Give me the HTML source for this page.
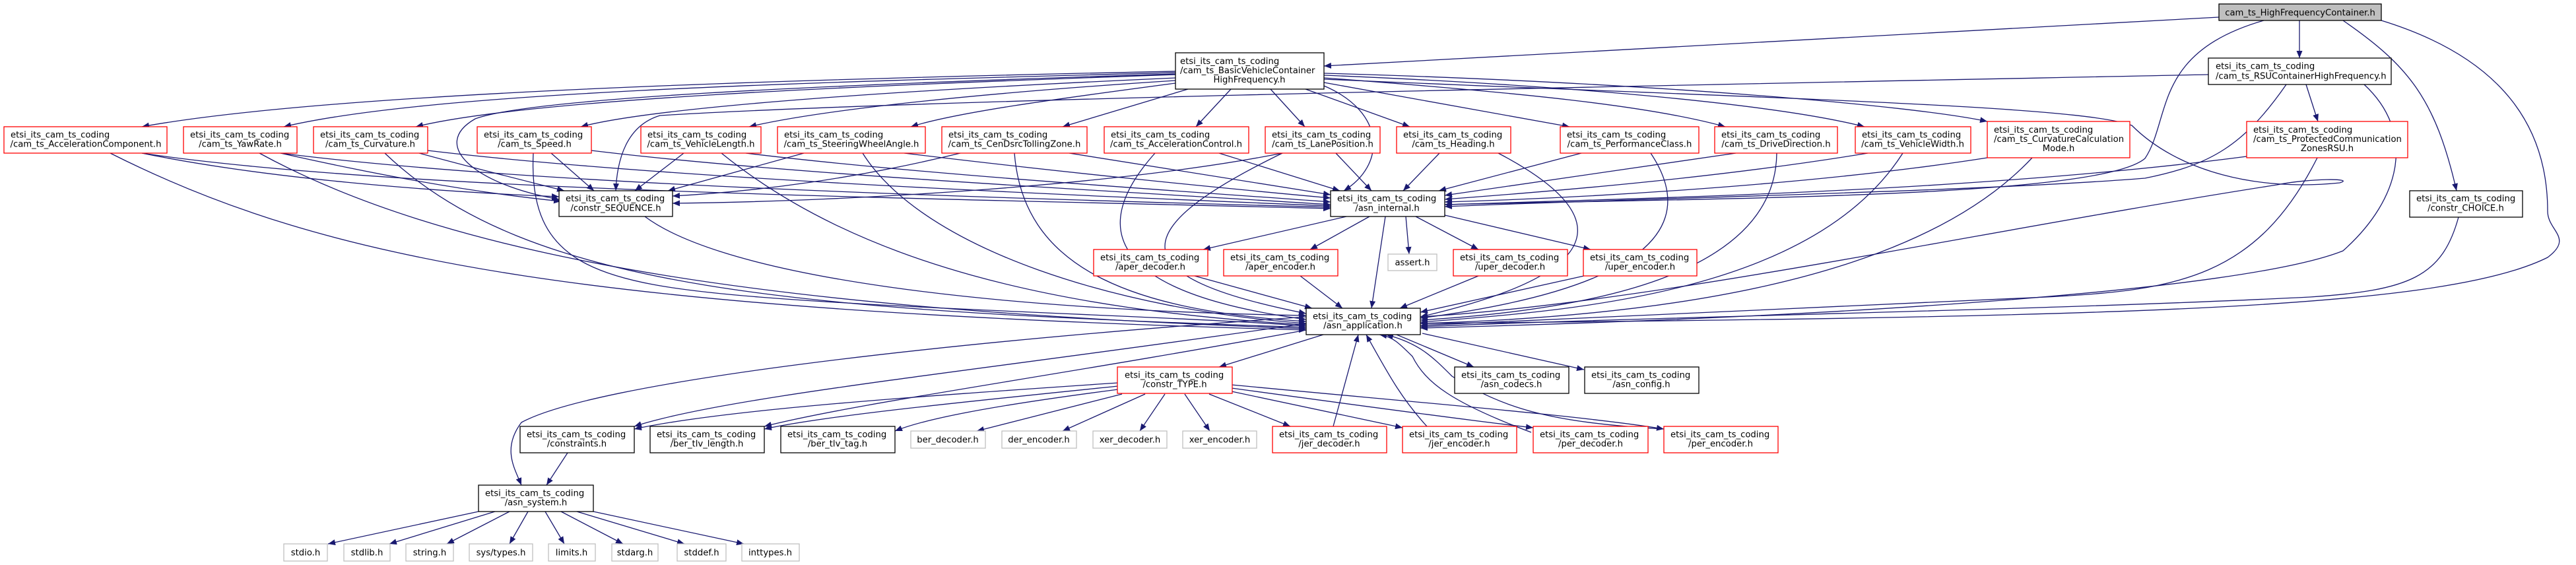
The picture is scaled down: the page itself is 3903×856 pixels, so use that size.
<!DOCTYPE html>
<html><head><meta charset="utf-8"><style>
html,body{margin:0;padding:0;background:#fff;}
svg{display:block;}
text{font-family:"DejaVu Sans","Liberation Sans",sans-serif;font-size:13.2px;fill:#000;}
.e{fill:none;stroke:#191970;stroke-width:1.3;marker-end:url(#a);}
.n{fill:#fff;stroke:#000;stroke-width:1.3;}
.r{fill:#fff;stroke:#ff0000;stroke-width:1.3;}
.g{fill:#fff;stroke:#bfbfbf;stroke-width:1.3;}
</style></head><body>
<svg width="3903" height="856" viewBox="0 0 3903 856" xmlns="http://www.w3.org/2000/svg">
<defs><marker id="a" markerUnits="userSpaceOnUse" markerWidth="12" markerHeight="9" refX="11" refY="4.5" orient="auto"><path d="M0,0 L11,4.5 L0,9 z" fill="#191970"/></marker></defs>
<g>
<path class="e" d="M3362,26 L2006,100"/>
<path class="e" d="M3484,31 L3484,88"/>
<path class="e" d="M3430,31 C3260,80 3290,180 3250,240 C3180,300 2600,300 2189,310"/>
<path class="e" d="M3550,31 C3650,100 3690,150 3722,289"/>
<path class="e" d="M3608,31 C3800,90 3860,200 3860,320 C3860,350 3900,360 3860,390 C3700,470 3200,480 2152,490"/>
<path class="e" d="M1781,108 C1200,120 500,140 215,192"/>
<path class="e" d="M1781,110 C1200,125 650,140 430,192"/>
<path class="e" d="M1781,113 C1300,130 800,150 630,192"/>
<path class="e" d="M1781,118 C1400,135 1000,160 880,192"/>
<path class="e" d="M1781,122 C1500,140 1250,165 1135,192"/>
<path class="e" d="M1781,126 C1600,150 1450,170 1380,192"/>
<path class="e" d="M1800,135 L1610,192"/>
<path class="e" d="M1865,135 L1812,192"/>
<path class="e" d="M1925,135 L1977,192"/>
<path class="e" d="M1978,135 L2136,192"/>
<path class="e" d="M2006,125 L2378,192"/>
<path class="e" d="M2006,118 C2300,140 2500,160 2614,192"/>
<path class="e" d="M2006,114 C2400,130 2700,160 2825,192"/>
<path class="e" d="M2006,111 C2500,125 2900,160 3011,184"/>
<path class="e" d="M1781,112 C1200,130 800,150 720,180 C650,220 720,280 847,302"/>
<path class="e" d="M2006,130 C2100,170 2100,250 2036,289"/>
<path class="e" d="M2006,120 C2700,150 3150,160 3230,190 C3300,260 3420,290 3545,277 C3570,270 3500,270 3450,280 C3000,350 2500,460 2152,480"/>
<path class="e" d="M3494,128 L3512,184"/>
<path class="e" d="M3464,128 C3400,220 3350,250 3250,270 C3000,290 2500,300 2189,313"/>
<path class="e" d="M3582,128 C3660,200 3640,300 3550,380 C3400,440 2800,480 2152,497"/>
<path class="e" d="M3346,113 C2500,130 1400,150 1000,175 C950,190 935,240 933,289"/>
<path class="e" d="M215,232 C400,270 650,290 847,298"/>
<path class="e" d="M425,232 C550,260 700,290 850,305"/>
<path class="e" d="M635,232 C700,250 780,270 855,289"/>
<path class="e" d="M835,232 L900,289"/>
<path class="e" d="M1036,232 L962,289"/>
<path class="e" d="M1218,232 L1012,289"/>
<path class="e" d="M1455,232 C1300,270 1150,290 1019,297"/>
<path class="e" d="M1943,232 C1700,280 1300,305 1019,308"/>
<path class="e" d="M215,232 C600,290 1400,300 2016,316"/>
<path class="e" d="M425,232 C800,280 1500,300 2016,314"/>
<path class="e" d="M648,228 C1000,270 1600,295 2016,312"/>
<path class="e" d="M896,228 C1200,265 1700,290 2016,310"/>
<path class="e" d="M1130,232 C1400,265 1800,290 2016,306"/>
<path class="e" d="M1370,232 C1600,260 1850,285 2016,300"/>
<path class="e" d="M1620,232 L2016,295"/>
<path class="e" d="M1847,232 L2030,289"/>
<path class="e" d="M2024,232 L2078,289"/>
<path class="e" d="M2181,232 L2126,289"/>
<path class="e" d="M2396,232 L2180,289"/>
<path class="e" d="M2630,232 L2189,296"/>
<path class="e" d="M2830,232 C2600,270 2350,290 2189,302"/>
<path class="e" d="M3011,239 C2750,280 2400,300 2189,306"/>
<path class="e" d="M3404,237 C3000,290 2500,300 2189,310"/>
<path class="e" d="M167,232 C500,400 900,470 1979,500"/>
<path class="e" d="M393,232 C700,400 1200,470 1979,498"/>
<path class="e" d="M583,232 C800,440 1200,470 1979,496"/>
<path class="e" d="M808,232 C800,400 900,430 1150,450 C1400,470 1800,480 1979,494"/>
<path class="e" d="M1093,232 C1300,400 1600,470 1979,492"/>
<path class="e" d="M1307,232 C1400,380 1700,470 1979,490"/>
<path class="e" d="M1537,232 C1550,400 1700,470 1979,487"/>
<path class="e" d="M1750,232 C1600,400 1800,460 1979,484"/>
<path class="e" d="M1943,232 C1700,350 1700,420 1979,475"/>
<path class="e" d="M2270,232 C2400,300 2500,400 2152,480"/>
<path class="e" d="M2501,232 C2600,380 2400,450 2152,482"/>
<path class="e" d="M2692,232 C2690,420 2400,470 2152,485"/>
<path class="e" d="M2883,232 C2750,440 2400,470 2152,488"/>
<path class="e" d="M3079,239 C2900,430 2500,480 2152,490"/>
<path class="e" d="M3511,239 C3420,420 3300,440 3100,450 C2700,470 2400,480 2152,493"/>
<path class="e" d="M3725,329 C3700,420 3650,440 3500,450 C3100,470 2500,480 2152,495"/>
<path class="e" d="M977,328 C1100,420 1500,470 1979,478"/>
<path class="e" d="M2040,328 L1823,378"/>
<path class="e" d="M2075,328 L1985,378"/>
<path class="e" d="M2130,328 L2135,385"/>
<path class="e" d="M2145,328 L2240,378"/>
<path class="e" d="M2189,326 L2410,378"/>
<path class="e" d="M2099,328 L2078,467"/>
<path class="e" d="M1810,418 L1988,467"/>
<path class="e" d="M1970,418 L2034,467"/>
<path class="e" d="M2240,418 L2121,467"/>
<path class="e" d="M2400,418 L2152,473"/>
<path class="e" d="M2005,507 L1847,556"/>
<path class="e" d="M2116,507 L2233,556"/>
<path class="e" d="M2155,505 L2400,560"/>
<path class="e" d="M1979,480 C1400,520 900,580 790,640 C760,680 780,710 790,735"/>
<path class="e" d="M1979,490 C1500,560 1100,600 961,646"/>
<path class="e" d="M1979,500 C1600,570 1300,610 1158,646"/>
<path class="e" d="M2020,646 L2058,507"/>
<path class="e" d="M2162,646 C2120,600 2100,560 2070,507"/>
<path class="e" d="M2320,655 C2200,610 2160,580 2140,540 C2120,520 2110,510 2090,507"/>
<path class="e" d="M2521,650 C2350,640 2280,620 2200,570 C2170,540 2150,520 2100,507"/>
<path class="e" d="M1694,580 C1400,600 1100,620 961,650"/>
<path class="e" d="M1694,585 C1450,610 1250,630 1158,650"/>
<path class="e" d="M1694,590 C1500,615 1400,635 1356,653"/>
<path class="e" d="M1700,597 L1480,653"/>
<path class="e" d="M1735,597 L1610,653"/>
<path class="e" d="M1765,597 L1727,653"/>
<path class="e" d="M1795,597 L1833,653"/>
<path class="e" d="M1832,597 L1955,646"/>
<path class="e" d="M1866,593 L2125,648"/>
<path class="e" d="M1866,588 C2100,620 2250,640 2323,648"/>
<path class="e" d="M1866,583 C2150,610 2400,630 2521,650"/>
<path class="e" d="M860,686 L828,735"/>
<path class="e" d="M725,775 L497,824"/>
<path class="e" d="M750,775 L590,824"/>
<path class="e" d="M772,775 L677,824"/>
<path class="e" d="M800,775 L772,824"/>
<path class="e" d="M826,775 L855,824"/>
<path class="e" d="M850,775 L944,824"/>
<path class="e" d="M874,775 L1037,824"/>
<path class="e" d="M899,775 L1127,824"/>
</g>
<g>
<rect x="3362" y="6" width="246" height="25" fill="#bfbfbf" stroke="#000" stroke-width="1.3"/>
<text x="3485" y="23.5" text-anchor="middle">cam_ts_HighFrequencyContainer.h</text>

<rect class="n" x="1781" y="80" width="225" height="55"/>
<text x="1788" y="97">etsi_its_cam_ts_coding</text><text x="1788" y="111">/cam_ts_BasicVehicleContainer</text><text x="1893" y="125" text-anchor="middle">HighFrequency.h</text>

<rect class="n" x="3346" y="88" width="277" height="40"/>
<text x="3357" y="104.5">etsi_its_cam_ts_coding</text><text x="3357" y="119.5">/cam_ts_RSUContainerHighFrequency.h</text>

<rect class="r" x="6" y="192" width="247" height="40"/><text x="16" y="208.5">etsi_its_cam_ts_coding</text><text x="130" y="222.5" text-anchor="middle">/cam_ts_AccelerationComponent.h</text>
<rect class="r" x="278" y="192" width="172" height="40"/><text x="288" y="208.5">etsi_its_cam_ts_coding</text><text x="364" y="222.5" text-anchor="middle">/cam_ts_YawRate.h</text>
<rect class="r" x="475" y="192" width="173" height="40"/><text x="485" y="208.5">etsi_its_cam_ts_coding</text><text x="561" y="222.5" text-anchor="middle">/cam_ts_Curvature.h</text>
<rect class="r" x="723" y="192" width="173" height="40"/><text x="733" y="208.5">etsi_its_cam_ts_coding</text><text x="810" y="222.5" text-anchor="middle">/cam_ts_Speed.h</text>
<rect class="r" x="971" y="192" width="182" height="40"/><text x="981" y="208.5">etsi_its_cam_ts_coding</text><text x="1062" y="222.5" text-anchor="middle">/cam_ts_VehicleLength.h</text>
<rect class="r" x="1178" y="192" width="224" height="40"/><text x="1188" y="208.5">etsi_its_cam_ts_coding</text><text x="1290" y="222.5" text-anchor="middle">/cam_ts_SteeringWheelAngle.h</text>
<rect class="r" x="1427" y="192" width="220" height="40"/><text x="1437" y="208.5">etsi_its_cam_ts_coding</text><text x="1537" y="222.5" text-anchor="middle">/cam_ts_CenDsrcTollingZone.h</text>
<rect class="r" x="1673" y="192" width="219" height="40"/><text x="1683" y="208.5">etsi_its_cam_ts_coding</text><text x="1782" y="222.5" text-anchor="middle">/cam_ts_AccelerationControl.h</text>
<rect class="r" x="1917" y="192" width="174" height="40"/><text x="1927" y="208.5">etsi_its_cam_ts_coding</text><text x="2004" y="222.5" text-anchor="middle">/cam_ts_LanePosition.h</text>
<rect class="r" x="2116" y="192" width="173" height="40"/><text x="2126" y="208.5">etsi_its_cam_ts_coding</text><text x="2202" y="222.5" text-anchor="middle">/cam_ts_Heading.h</text>
<rect class="r" x="2364" y="192" width="210" height="40"/><text x="2374" y="208.5">etsi_its_cam_ts_coding</text><text x="2469" y="222.5" text-anchor="middle">/cam_ts_PerformanceClass.h</text>
<rect class="r" x="2598" y="192" width="186" height="40"/><text x="2608" y="208.5">etsi_its_cam_ts_coding</text><text x="2691" y="222.5" text-anchor="middle">/cam_ts_DriveDirection.h</text>
<rect class="r" x="2811" y="192" width="175" height="40"/><text x="2821" y="208.5">etsi_its_cam_ts_coding</text><text x="2898" y="222.5" text-anchor="middle">/cam_ts_VehicleWidth.h</text>
<rect class="r" x="3011" y="184" width="216" height="55"/><text x="3021" y="201">etsi_its_cam_ts_coding</text><text x="3021" y="215">/cam_ts_CurvatureCalculation</text><text x="3119" y="229" text-anchor="middle">Mode.h</text>
<rect class="r" x="3404" y="184" width="244" height="55"/><text x="3414" y="201">etsi_its_cam_ts_coding</text><text x="3414" y="215">/cam_ts_ProtectedCommunication</text><text x="3526" y="229" text-anchor="middle">ZonesRSU.h</text>

<rect class="n" x="847" y="289" width="172" height="39"/><text x="857" y="305">etsi_its_cam_ts_coding</text><text x="933" y="319.5" text-anchor="middle">/constr_SEQUENCE.h</text>
<rect class="n" x="2016" y="289" width="173" height="39"/><text x="2026" y="305">etsi_its_cam_ts_coding</text><text x="2102" y="319.5" text-anchor="middle">/asn_internal.h</text>
<rect class="n" x="3651" y="289" width="171" height="40"/><text x="3661" y="305">etsi_its_cam_ts_coding</text><text x="3736" y="319.5" text-anchor="middle">/constr_CHOICE.h</text>

<rect class="r" x="1657" y="378" width="173" height="40"/><text x="1667" y="394.5">etsi_its_cam_ts_coding</text><text x="1743" y="408.5" text-anchor="middle">/aper_decoder.h</text>
<rect class="r" x="1854" y="378" width="173" height="40"/><text x="1864" y="394.5">etsi_its_cam_ts_coding</text><text x="1940" y="408.5" text-anchor="middle">/aper_encoder.h</text>
<rect class="g" x="2103" y="385" width="74" height="25"/><text x="2140" y="402" text-anchor="middle">assert.h</text>
<rect class="r" x="2202" y="378" width="173" height="40"/><text x="2212" y="394.5">etsi_its_cam_ts_coding</text><text x="2288" y="408.5" text-anchor="middle">/uper_decoder.h</text>
<rect class="r" x="2399" y="378" width="172" height="40"/><text x="2409" y="394.5">etsi_its_cam_ts_coding</text><text x="2485" y="408.5" text-anchor="middle">/uper_encoder.h</text>

<rect class="n" x="1979" y="467" width="173" height="40"/><text x="1989" y="483.5">etsi_its_cam_ts_coding</text><text x="2065" y="497.5" text-anchor="middle">/asn_application.h</text>

<rect class="r" x="1693" y="556" width="174" height="40"/><text x="1704" y="572.5">etsi_its_cam_ts_coding</text><text x="1780" y="586.5" text-anchor="middle">/constr_TYPE.h</text>
<rect class="n" x="2204" y="556" width="173" height="40"/><text x="2214" y="572.5">etsi_its_cam_ts_coding</text><text x="2290" y="586.5" text-anchor="middle">/asn_codecs.h</text>
<rect class="n" x="2401" y="556" width="173" height="40"/><text x="2411" y="572.5">etsi_its_cam_ts_coding</text><text x="2487" y="586.5" text-anchor="middle">/asn_config.h</text>

<rect class="n" x="788" y="646" width="173" height="40"/><text x="798" y="662.5">etsi_its_cam_ts_coding</text><text x="874" y="676.5" text-anchor="middle">/constraints.h</text>
<rect class="n" x="985" y="646" width="173" height="40"/><text x="995" y="662.5">etsi_its_cam_ts_coding</text><text x="1071" y="676.5" text-anchor="middle">/ber_tlv_length.h</text>
<rect class="n" x="1183" y="646" width="173" height="40"/><text x="1193" y="662.5">etsi_its_cam_ts_coding</text><text x="1269" y="676.5" text-anchor="middle">/ber_tlv_tag.h</text>
<rect class="g" x="1380" y="653" width="113" height="26"/><text x="1436" y="670.5" text-anchor="middle">ber_decoder.h</text>
<rect class="g" x="1518" y="653" width="113" height="26"/><text x="1574" y="670.5" text-anchor="middle">der_encoder.h</text>
<rect class="g" x="1656" y="653" width="112" height="26"/><text x="1712" y="670.5" text-anchor="middle">xer_decoder.h</text>
<rect class="g" x="1792" y="653" width="112" height="26"/><text x="1848" y="670.5" text-anchor="middle">xer_encoder.h</text>
<rect class="r" x="1928" y="646" width="173" height="40"/><text x="1938" y="662.5">etsi_its_cam_ts_coding</text><text x="2014" y="676.5" text-anchor="middle">/jer_decoder.h</text>
<rect class="r" x="2125" y="646" width="173" height="40"/><text x="2135" y="662.5">etsi_its_cam_ts_coding</text><text x="2211" y="676.5" text-anchor="middle">/jer_encoder.h</text>
<rect class="r" x="2323" y="646" width="174" height="40"/><text x="2333" y="662.5">etsi_its_cam_ts_coding</text><text x="2410" y="676.5" text-anchor="middle">/per_decoder.h</text>
<rect class="r" x="2521" y="646" width="173" height="40"/><text x="2531" y="662.5">etsi_its_cam_ts_coding</text><text x="2607" y="676.5" text-anchor="middle">/per_encoder.h</text>

<rect class="n" x="725" y="735" width="174" height="40"/><text x="735" y="751.5">etsi_its_cam_ts_coding</text><text x="812" y="765.5" text-anchor="middle">/asn_system.h</text>

<rect class="g" x="430" y="824" width="66" height="26"/><text x="463" y="841.5" text-anchor="middle">stdio.h</text>
<rect class="g" x="521" y="824" width="70" height="26"/><text x="556" y="841.5" text-anchor="middle">stdlib.h</text>
<rect class="g" x="615" y="824" width="72" height="26"/><text x="651" y="841.5" text-anchor="middle">string.h</text>
<rect class="g" x="711" y="824" width="96" height="26"/><text x="759" y="841.5" text-anchor="middle">sys/types.h</text>
<rect class="g" x="831" y="824" width="71" height="26"/><text x="866" y="841.5" text-anchor="middle">limits.h</text>
<rect class="g" x="927" y="824" width="70" height="26"/><text x="962" y="841.5" text-anchor="middle">stdarg.h</text>
<rect class="g" x="1026" y="824" width="74" height="26"/><text x="1063" y="841.5" text-anchor="middle">stddef.h</text>
<rect class="g" x="1124" y="824" width="87" height="26"/><text x="1167" y="841.5" text-anchor="middle">inttypes.h</text>
</g>
</svg>
</body></html>
